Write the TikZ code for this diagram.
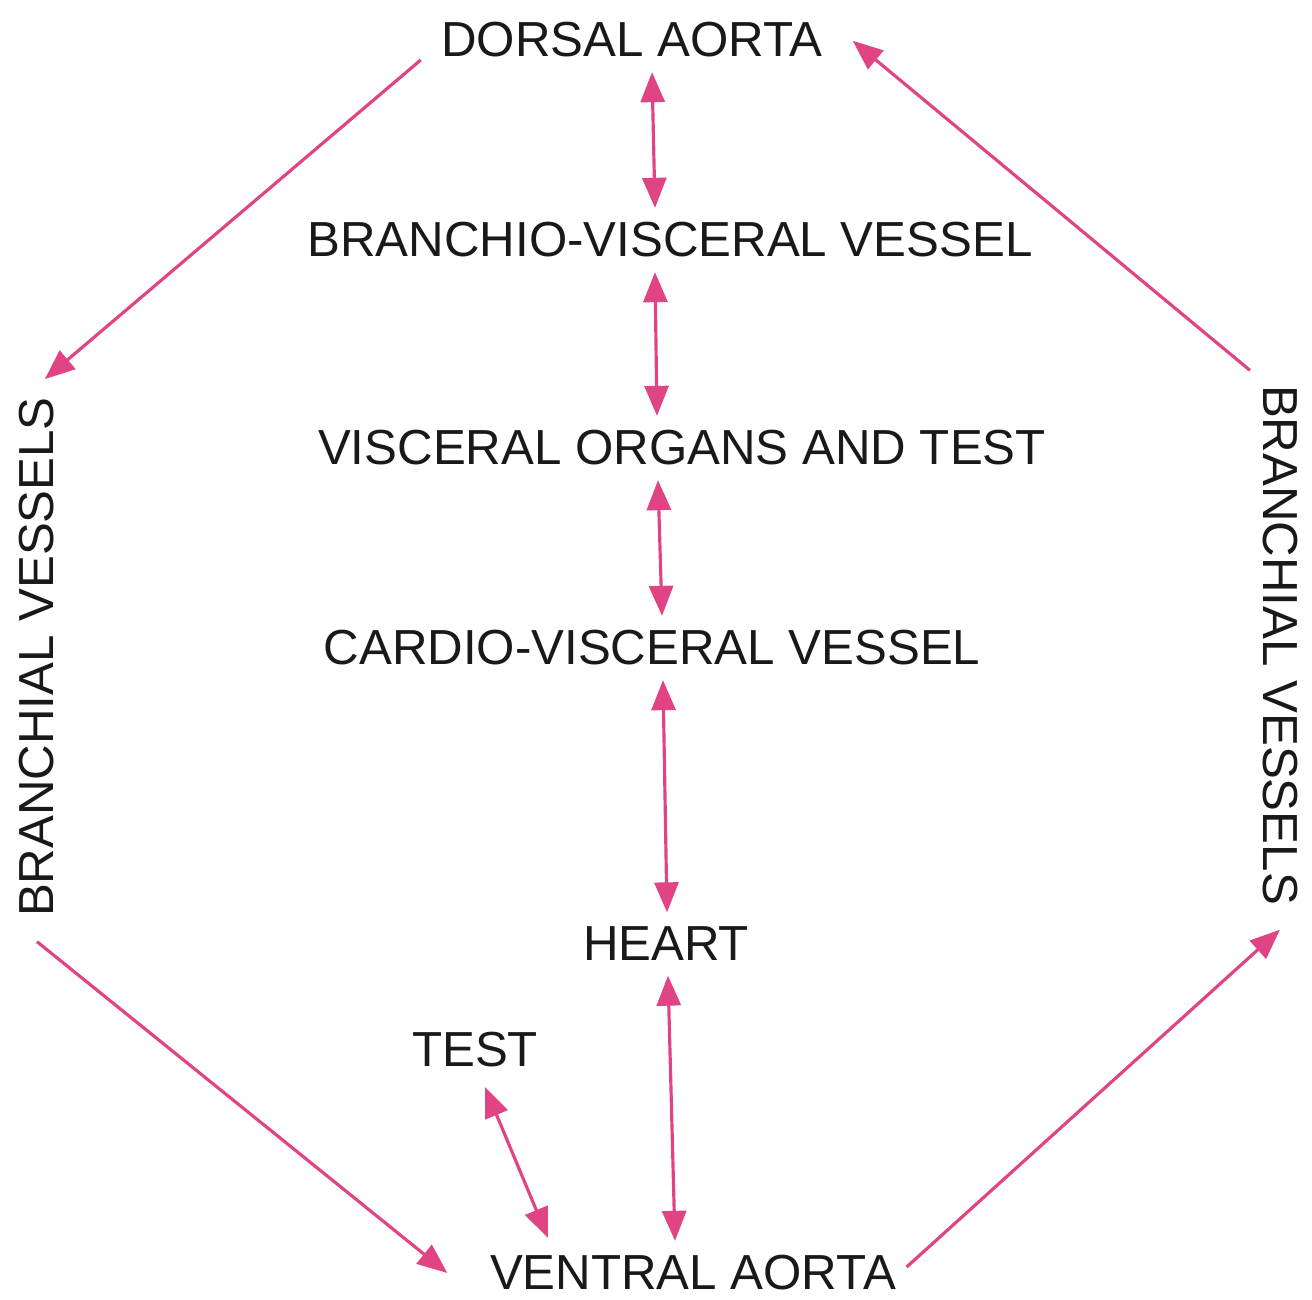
\documentclass[tikz,border=0pt]{standalone}
\usepackage{fontspec}
\setmainfont{Liberation Sans}
\usetikzlibrary{arrows.meta}
\definecolor{FlowPink}{RGB}{224,68,132}
\tikzset{
  organ/.style={inner sep=0.14cm,font=\fontsize{14}{16}\selectfont,text=black!90},
  flowarrow/.style={-{Triangle[length=3mm,width=2.4mm]},
    line width=0.9pt,draw=FlowPink!85!black!90,color=FlowPink},
  dblarrow/.style={{Triangle[length=3mm,width=2.4mm]}-{Triangle[length=3mm,width=2.4mm]},
    line width=0.9pt,draw=FlowPink!85!black!90,color=FlowPink},
}
\begin{document}
\begin{tikzpicture}[x=0.01cm,y=-0.01cm]
  \useasboundingbox (0,0) rectangle (1312,1299);
  \node[organ] (da) at (632,40) {DORSAL AORTA};
  \node[organ] (bvv) at (670,240) {BRANCHIO-VISCERAL VESSEL};
  \node[organ] (vot) at (682,448) {VISCERAL ORGANS AND TEST};
  \node[organ] (cvv) at (652,648) {CARDIO-VISCERAL VESSEL};
  \node[organ] (heart) at (666,944) {HEART};
  \node[organ] (test) at (475,1050) {TEST};
  \node[organ] (va) at (693,1273) {VENTRAL AORTA};
  \node[organ,rotate=90] (lbv) at (37,657) {BRANCHIAL VESSELS};
  \node[organ,rotate=-90] (rbv) at (1280,645) {BRANCHIAL VESSELS};
  % central column
  \draw[dblarrow] ([xshift=0.2cm]da.south) -- ([xshift=-0.15cm]bvv.north);
  \draw[dblarrow] ([xshift=-0.15cm]bvv.south) -- ([xshift=-0.25cm]vot.north);
  \draw[dblarrow] ([xshift=-0.24cm]vot.south) -- ([xshift=0.1cm]cvv.north);
  \draw[dblarrow] ([xshift=0.11cm]cvv.south) -- ([xshift=0.01cm]heart.north);
  \draw[dblarrow] ([xshift=0.02cm]heart.south) -- ([xshift=-0.18cm]va.north);
  \draw[dblarrow] ([xshift=0.1cm,yshift=-0.05cm]test.south) -- ([xshift=-1.45cm,yshift=0.03cm]va.north);
  % outer loop
  \draw[flowarrow,shorten >=0.05cm] ([xshift=-0.06cm,yshift=-0.2cm]da.west) -- ([xshift=0.04cm]lbv.east);
  \draw[flowarrow] ([yshift=-0.1cm]lbv.west) -- ([xshift=-0.28cm]va.west);
  \draw[flowarrow] ([xshift=-0.04cm,yshift=0.06cm]va.east) -- ([yshift=-0.1cm]rbv.east);
  \draw[flowarrow,shorten >=0.2cm] ([xshift=-0.3cm]rbv.west) -- ([yshift=0.12cm]da.east);
\end{tikzpicture}
\end{document}
